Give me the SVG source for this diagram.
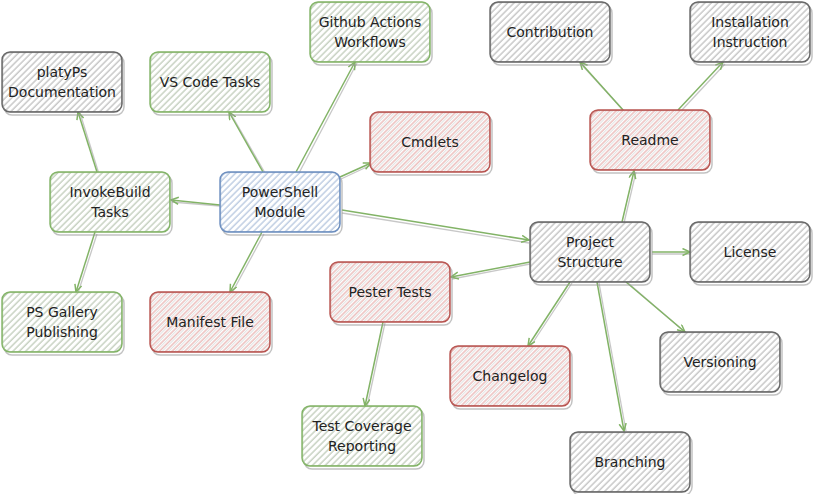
<svg xmlns="http://www.w3.org/2000/svg" width="813" height="494" viewBox="0 0 813 494">
<style>
.t{font-family:"DejaVu Sans","Liberation Sans",sans-serif;font-size:14px;fill:#222;text-anchor:middle}
.sh{fill:none;stroke:#9a9a9a;stroke-width:1.5;opacity:.6}
.b{stroke-width:1.4}
.b2{fill:none;stroke-width:0.8;opacity:.7}
.gy{fill:url(#hg);stroke:#666}
.gn{fill:url(#hgn);stroke:#82b366}
.rd{fill:url(#hr);stroke:#b85450}
.bl{fill:url(#hb);stroke:#6c8ebf}
.gy2{stroke:#666}.gn2{stroke:#82b366}.rd2{stroke:#b85450}.bl2{stroke:#6c8ebf}
.c{fill:none;stroke:#82b366;stroke-width:1.5;marker-end:url(#ah)}
.cs{fill:none;stroke:#999;stroke-width:1.3;opacity:.55}
</style>
<defs>
<pattern id="hg" width="4.5" height="4.5" patternUnits="userSpaceOnUse" patternTransform="rotate(45)">
<rect width="4.5" height="4.5" fill="#fff"/><line x1="1" y1="0" x2="1" y2="4.5" stroke="#acacac" stroke-width="1"/></pattern>
<pattern id="hgn" width="4.5" height="4.5" patternUnits="userSpaceOnUse" patternTransform="rotate(45)">
<rect width="4.5" height="4.5" fill="#fff"/><line x1="1" y1="0" x2="1" y2="4.5" stroke="#acbca5" stroke-width="1"/></pattern>
<pattern id="hr" width="4.5" height="4.5" patternUnits="userSpaceOnUse" patternTransform="rotate(45)">
<rect width="4.5" height="4.5" fill="#fff"/><line x1="1" y1="0" x2="1" y2="4.5" stroke="#e4a29f" stroke-width="1"/><line x1="3" y1="0" x2="3" y2="4.5" stroke="#c8c8c8" stroke-width="0.6"/></pattern>
<pattern id="hb" width="4.5" height="4.5" patternUnits="userSpaceOnUse" patternTransform="rotate(45)">
<rect width="4.5" height="4.5" fill="#fff"/><line x1="1" y1="0" x2="1" y2="4.5" stroke="#a0b6d6" stroke-width="1"/></pattern>
<marker id="ah" markerWidth="10" markerHeight="10" refX="8" refY="4" orient="auto" markerUnits="userSpaceOnUse">
<path d="M0.5,0.5 L8,4 L0.5,7.5" fill="none" stroke="#82b366" stroke-width="1.5"/></marker>
</defs>

<g id="connectors">
<path class="cs" d="M99,174 L80,113"/><path class="c" d="M97,172 L78,112"/>
<path class="cs" d="M97,234 L78,293"/><path class="c" d="M95,232 L76,292"/>
<path class="cs" d="M220,206 L172,202"/><path class="c" d="M220,205 L171,200"/>
<path class="cs" d="M265,173 L231,114"/><path class="c" d="M263,172 L229,112"/>
<path class="cs" d="M299,173 L357,63"/><path class="c" d="M296,172 L355,62"/>
<path class="cs" d="M341,179 L371,165"/><path class="c" d="M340,177 L371,163"/>
<path class="cs" d="M264,234 L232,293"/><path class="c" d="M262,232 L230,292"/>
<path class="cs" d="M342,213 L529,243"/><path class="c" d="M342,210 L529,240"/>
<path class="cs" d="M624,223 L636,172"/><path class="c" d="M622,222 L634,171"/>
<path class="cs" d="M625,112 L581,64"/><path class="c" d="M623,110 L580,62"/>
<path class="cs" d="M681,111 L725,64"/><path class="c" d="M678,110 L723,62"/>
<path class="cs" d="M652,254 L690,254"/><path class="c" d="M652,252 L690,252"/>
<path class="cs" d="M530,264 L452,279"/><path class="c" d="M530,262 L451,277"/>
<path class="cs" d="M572,283 L530,347"/><path class="c" d="M570,282 L528,346"/>
<path class="cs" d="M599,283 L626,431"/><path class="c" d="M597,282 L624,431"/>
<path class="cs" d="M628,283 L686,333"/><path class="c" d="M626,282 L685,332"/>
<path class="cs" d="M385,323 L367,407"/><path class="c" d="M383,322 L365,406"/>
</g>

<g id="n-platyps"><rect class="sh" x="4" y="55" width="120" height="60" rx="8"/><rect class="b gy" x="2" y="52" width="120" height="60" rx="8"/><rect class="b2 gy2" x="2.7" y="52.6" width="119" height="59" rx="8"/><text class="t" x="62" y="77">platyPs</text><text class="t" x="62" y="97">Documentation</text></g>
<g id="n-vscode"><rect class="sh" x="152" y="55" width="120" height="60" rx="8"/><rect class="b gn" x="150" y="52" width="120" height="60" rx="8"/><rect class="b2 gn2" x="150.7" y="52.6" width="119" height="59" rx="8"/><text class="t" x="210" y="87">VS Code Tasks</text></g>
<g id="n-github"><rect class="sh" x="312" y="5" width="120" height="60" rx="8"/><rect class="b gn" x="310" y="2" width="120" height="60" rx="8"/><rect class="b2 gn2" x="310.7" y="2.6" width="119" height="59" rx="8"/><text class="t" x="370" y="27">Github Actions</text><text class="t" x="370" y="47">Workflows</text></g>
<g id="n-cmdlets"><rect class="sh" x="372" y="115" width="120" height="60" rx="8"/><rect class="b rd" x="370" y="112" width="120" height="60" rx="8"/><rect class="b2 rd2" x="370.7" y="112.6" width="119" height="59" rx="8"/><text class="t" x="430" y="147">Cmdlets</text></g>
<g id="n-contribution"><rect class="sh" x="492" y="5" width="120" height="60" rx="8"/><rect class="b gy" x="490" y="2" width="120" height="60" rx="8"/><rect class="b2 gy2" x="490.7" y="2.6" width="119" height="59" rx="8"/><text class="t" x="550" y="37">Contribution</text></g>
<g id="n-installation"><rect class="sh" x="692" y="5" width="120" height="60" rx="8"/><rect class="b gy" x="690" y="2" width="120" height="60" rx="8"/><rect class="b2 gy2" x="690.7" y="2.6" width="119" height="59" rx="8"/><text class="t" x="750" y="27">Installation</text><text class="t" x="750" y="47">Instruction</text></g>
<g id="n-readme"><rect class="sh" x="592" y="113" width="120" height="60" rx="8"/><rect class="b rd" x="590" y="110" width="120" height="60" rx="8"/><rect class="b2 rd2" x="590.7" y="110.6" width="119" height="59" rx="8"/><text class="t" x="650" y="145">Readme</text></g>
<g id="n-invokebuild"><rect class="sh" x="52" y="175" width="120" height="60" rx="8"/><rect class="b gn" x="50" y="172" width="120" height="60" rx="8"/><rect class="b2 gn2" x="50.7" y="172.6" width="119" height="59" rx="8"/><text class="t" x="110" y="197">InvokeBuild</text><text class="t" x="110" y="217">Tasks</text></g>
<g id="n-powershell"><rect class="sh" x="222" y="175" width="120" height="60" rx="8"/><rect class="b bl" x="220" y="172" width="120" height="60" rx="8"/><rect class="b2 bl2" x="220.7" y="172.6" width="119" height="59" rx="8"/><text class="t" x="280" y="197">PowerShell</text><text class="t" x="280" y="217">Module</text></g>
<g id="n-project"><rect class="sh" x="532" y="225" width="120" height="60" rx="8"/><rect class="b gy" x="530" y="222" width="120" height="60" rx="8"/><rect class="b2 gy2" x="530.7" y="222.6" width="119" height="59" rx="8"/><text class="t" x="590" y="247">Project</text><text class="t" x="590" y="267">Structure</text></g>
<g id="n-license"><rect class="sh" x="692" y="225" width="120" height="60" rx="8"/><rect class="b gy" x="690" y="222" width="120" height="60" rx="8"/><rect class="b2 gy2" x="690.7" y="222.6" width="119" height="59" rx="8"/><text class="t" x="750" y="257">License</text></g>
<g id="n-pester"><rect class="sh" x="332" y="265" width="120" height="60" rx="8"/><rect class="b rd" x="330" y="262" width="120" height="60" rx="8"/><rect class="b2 rd2" x="330.7" y="262.6" width="119" height="59" rx="8"/><text class="t" x="390" y="297">Pester Tests</text></g>
<g id="n-psgallery"><rect class="sh" x="4" y="295" width="120" height="60" rx="8"/><rect class="b gn" x="2" y="292" width="120" height="60" rx="8"/><rect class="b2 gn2" x="2.7" y="292.6" width="119" height="59" rx="8"/><text class="t" x="62" y="317">PS Gallery</text><text class="t" x="62" y="337">Publishing</text></g>
<g id="n-manifest"><rect class="sh" x="152" y="295" width="120" height="60" rx="8"/><rect class="b rd" x="150" y="292" width="120" height="60" rx="8"/><rect class="b2 rd2" x="150.7" y="292.6" width="119" height="59" rx="8"/><text class="t" x="210" y="327">Manifest File</text></g>
<g id="n-versioning"><rect class="sh" x="662" y="335" width="120" height="60" rx="8"/><rect class="b gy" x="660" y="332" width="120" height="60" rx="8"/><rect class="b2 gy2" x="660.7" y="332.6" width="119" height="59" rx="8"/><text class="t" x="720" y="367">Versioning</text></g>
<g id="n-changelog"><rect class="sh" x="452" y="349" width="120" height="60" rx="8"/><rect class="b rd" x="450" y="346" width="120" height="60" rx="8"/><rect class="b2 rd2" x="450.7" y="346.6" width="119" height="59" rx="8"/><text class="t" x="510" y="381">Changelog</text></g>
<g id="n-coverage"><rect class="sh" x="304" y="409" width="120" height="60" rx="8"/><rect class="b gn" x="302" y="406" width="120" height="60" rx="8"/><rect class="b2 gn2" x="302.7" y="406.6" width="119" height="59" rx="8"/><text class="t" x="362" y="431">Test Coverage</text><text class="t" x="362" y="451">Reporting</text></g>
<g id="n-branching"><rect class="sh" x="572" y="435" width="120" height="60" rx="8"/><rect class="b gy" x="570" y="432" width="120" height="60" rx="8"/><rect class="b2 gy2" x="570.7" y="432.6" width="119" height="59" rx="8"/><text class="t" x="630" y="467">Branching</text></g>
</svg>
